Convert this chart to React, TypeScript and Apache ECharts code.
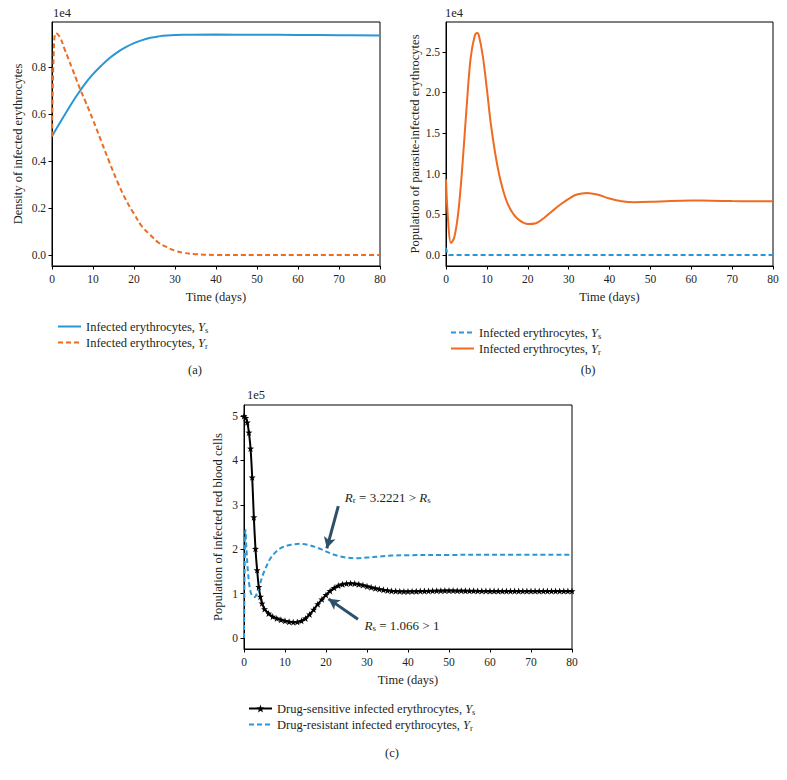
import React, { useEffect, useRef } from 'react';
import * as echarts from 'echarts';

// ---------- Panel (a) ----------
const aYsT = [0, 2, 4, 6, 8, 10, 12, 14, 16, 18, 20, 22, 24, 26, 28, 32, 40, 50, 60, 70, 80];
const aYsV = [5050, 5650, 6230, 6780, 7280, 7700, 8060, 8380, 8640, 8850, 9020, 9150, 9250, 9310, 9345, 9375, 9385, 9380, 9370, 9360, 9350];
const aYrT = [0, 0.5, 1, 2, 3, 4, 5, 6, 7, 8, 10, 12, 14, 16, 18, 20, 22, 24, 26, 28, 30, 32, 35, 40, 50, 60, 70, 80];
const aYrV = [5050, 9000, 9450, 9250, 8800, 8350, 7900, 7450, 7000, 6600, 5750, 4850, 3950, 3100, 2350, 1750, 1200, 850, 520, 330, 180, 90, 30, 0, 0, 0, 0, 0];

// ---------- Panel (b) ----------
const bYsT = [0, 0.3, 0.7, 80];
const bYsV = [900, 150, 0, 0];
const bYrT = [0, 0.5, 1.2, 2, 3, 4, 5, 6, 7, 7.6, 8, 9, 10, 11, 12, 13, 14, 15, 16, 17, 18, 19, 20, 22, 24, 26, 28, 30, 32, 34.5, 37, 40, 43, 46, 50, 55, 60, 65, 70, 75, 80];
const bYrV = [9300, 4350, 1480, 2100, 5200, 10900, 17900, 24100, 26900, 27300, 27100, 24500, 20400, 16000, 12600, 9900, 7900, 6400, 5400, 4700, 4250, 3950, 3800, 3900, 4550, 5400, 6200, 6900, 7430, 7630, 7430, 6940, 6600, 6490, 6530, 6650, 6690, 6670, 6630, 6610, 6610];

// ---------- Panel (c) ----------
const cYsT = [0, 0.4, 0.8, 1.2, 1.6, 2, 2.4, 2.8, 3.2, 3.6, 4, 4.4, 5, 6, 7, 8, 9, 10, 11, 12, 13, 14, 15, 16, 17, 18, 19, 20,
  21, 22, 23, 24, 25, 26, 27, 28, 29, 30, 31, 32, 33, 34, 35, 36, 37, 38, 39, 40, 41, 42, 43, 44, 45, 46, 47, 48, 49, 50,
  51, 52, 53, 54, 55, 56, 57, 58, 59, 60, 61, 62, 63, 64, 65, 66, 67, 68, 69, 70, 71, 72, 73, 74, 75, 76, 77, 78, 79, 80];
const cYsV = [500000, 496000, 486000, 463000, 427000, 362000, 272000, 201000, 153000, 115000, 93000, 78000, 65000, 55000, 48000, 44000, 41000, 38500, 36500, 35500, 36000, 38500, 44000, 53000, 64000, 76000, 87000, 97000,
  106000, 113000, 118000, 121000, 122500, 123000, 122500, 121000, 119000, 116500, 114000, 112000, 110000, 108500, 107000, 106000, 105500, 105000, 104800, 104800, 105000, 105200, 105500, 105800, 106000, 106200, 106400, 106500, 106600, 106600,
  106600, 106500, 106400, 106300, 106200, 106100, 106000, 105900, 105900, 105800, 105800, 105800, 105700, 105700, 105700, 105700, 105600, 105600, 105600, 105600, 105600, 105600, 105600, 105600, 105600, 105600, 105600, 105600, 105600, 105600];
const cYrT = [0, 0.15, 0.35, 0.6, 1, 1.5, 2, 2.6, 3.2, 3.8, 4.6, 5.5, 6.5, 8, 9.5, 11.5, 13.6, 15.5, 17.7, 20, 21.5, 23.3, 25, 27.4, 30, 33, 36, 40, 50, 60, 80];
const cYrV = [0, 150000, 243000, 200000, 145000, 108000, 95000, 92000, 102000, 119000, 142000, 162000, 180000, 196000, 205000, 210000, 212000, 210000, 204000, 195000, 189000, 184000, 181000, 179500, 181000, 183500, 185500, 186500, 187000, 187500, 187500];

// annotation arrows (tail -> head), in data units of panel (c)
const arrowRr = [[23, 297000], [20.2, 202000]];
const arrowRs = [[27.8, 42000], [20.6, 88000]];
const labelRrAt = [24.6, 317000];
const labelRsAt = [29.4, 28500];

const aYTicks = [0, 2000, 4000, 6000, 8000];
const bYTicks = [0, 5000, 10000, 15000, 20000, 25000];
const cYTicks = [0, 100000, 200000, 300000, 400000, 500000];

const FONT = '"Liberation Serif", "Times New Roman", serif';
const INK = '#231f20';
const BLUE = '#2a96d5';
const ORANGE = '#ef6b21';
const ARROW = '#2e5068';
const CLEAR = 'rgba(0,0,0,0)';

const pairs = (t: number[], v: number[]) => t.map((x, i) => [x, v[i]]);

const rich = {
  n: { fontFamily: FONT, fontSize: 12.5, color: INK, lineHeight: 15 },
  i: { fontFamily: FONT, fontSize: 12.5, fontStyle: 'italic', color: INK, lineHeight: 15 },
  s: { fontFamily: FONT, fontSize: 8.5, color: INK, verticalAlign: 'bottom', lineHeight: 9, padding: [3, 0, 0, 0] },
};

const legendText: Record<string, string> = {
  aYs: '{n|Infected erythrocytes, }{i|Y}{s|s}',
  aYr: '{n|Infected erythrocytes, }{i|Y}{s|r}',
  bYs: '{n|Infected erythrocytes, }{i|Y}{s|s}',
  bYr: '{n|Infected erythrocytes, }{i|Y}{s|r}',
  cYs: '{n|Drug-sensitive infected erythrocytes, }{i|Y}{s|s}',
  cYr: '{n|Drug-resistant infected erythrocytes, }{i|Y}{s|r}',
};

const STAR = 'path://M0,-10L2.35,-3.24L9.51,-3.09L3.8,1.24L5.88,8.09L0,4L-5.88,8.09L-3.8,1.24L-9.51,-3.09L-2.35,-3.24Z';

function xAxis(gridIndex: number) {
  return {
    type: 'value', gridIndex, min: 0, max: 80, interval: 10,
    name: 'Time (days)', nameLocation: 'middle', nameGap: 24,
    nameTextStyle: { fontFamily: FONT, fontSize: 12.5, color: INK },
    axisLine: { onZero: false, lineStyle: { color: '#000', width: 1 } },
    axisTick: { inside: false, length: 3.5, lineStyle: { color: '#000' } },
    axisLabel: { fontFamily: FONT, fontSize: 11.5, color: INK, margin: 7 },
    splitLine: { show: false },
  };
}

function yAxis(gridIndex: number, min: number, max: number, ticks: number[], scale: number, digits: number, name: string, nameGap: number) {
  return {
    type: 'value', gridIndex, min, max,
    name, nameLocation: 'middle', nameGap,
    nameTextStyle: { fontFamily: FONT, fontSize: 12.5, color: INK },
    axisLine: { onZero: false, lineStyle: { color: '#000', width: 1 } },
    axisTick: { customValues: ticks, length: 3.5, lineStyle: { color: '#000' } },
    axisLabel: {
      customValues: ticks, fontFamily: FONT, fontSize: 11.5, color: INK, margin: 6,
      formatter: (v: number) => (v / scale).toFixed(digits),
    },
    splitLine: { show: false },
  };
}

function legend(names: string[], left: number, top: number) {
  return {
    data: names, left, top, orient: 'vertical', itemWidth: 23, itemHeight: 10, itemGap: 2,
    formatter: (n: string) => legendText[n],
    textStyle: { fontFamily: FONT, fontSize: 12.5, color: INK, rich },
    selectedMode: false,
  };
}

function gtext(x: number, y: number, text: string, size = 12.5, align = 'left') {
  return {
    type: 'text', x, y,
    style: { text, fontFamily: FONT, fontSize: size, fill: INK, align, verticalAlign: 'middle' },
  };
}

export default function App() {
  const ref = useRef<HTMLDivElement>(null);
  useEffect(() => {
    document.body.style.margin = '0';
    const chart = echarts.init(ref.current!, undefined, { renderer: 'svg' });
    const annRich = {
      i: { fontFamily: FONT, fontSize: 13, fontStyle: 'italic', color: INK, lineHeight: 15 },
      n: { fontFamily: FONT, fontSize: 13, color: INK, lineHeight: 15 },
      s: { fontFamily: FONT, fontSize: 9, color: INK, verticalAlign: 'bottom', lineHeight: 9, padding: [3, 0, 0, 0] },
    };
    const option = {
      animation: false,
      textStyle: { fontFamily: FONT },
      grid: [
        { left: 52, top: 22, width: 328, height: 244, show: true, borderColor: '#000', borderWidth: 1 },
        { left: 446, top: 22, width: 327, height: 244, show: true, borderColor: '#000', borderWidth: 1 },
        { left: 244, top: 405, width: 328, height: 244, show: true, borderColor: '#000', borderWidth: 1 },
      ],
      xAxis: [xAxis(0), xAxis(1), xAxis(2)],
      yAxis: [
        yAxis(0, -472.5, 9922.5, aYTicks, 1e4, 1, 'Density of infected erythrocytes', 28),
        yAxis(1, -1365, 28665, bYTicks, 1e4, 1, 'Population of parasite-infected erythrocytes', 24),
        yAxis(2, -25000, 525000, cYTicks, 1e5, 0, 'Population of infected red blood cells', 20),
      ],
      legend: [
        legend(['aYs', 'aYr'], 52, 315),
        legend(['bYs', 'bYr'], 445, 321),
        legend(['cYs', 'cYr'], 243, 697),
      ],
      series: [
        { name: 'aYs', type: 'line', xAxisIndex: 0, yAxisIndex: 0, data: pairs(aYsT, aYsV), smooth: 0.4, symbol: 'none',
          lineStyle: { color: BLUE, width: 2 }, itemStyle: { color: CLEAR, borderWidth: 0 } },
        { name: 'aYr', type: 'line', xAxisIndex: 0, yAxisIndex: 0, data: pairs(aYrT, aYrV), smooth: 0.4, symbol: 'none',
          lineStyle: { color: ORANGE, width: 2, type: [5, 3] }, itemStyle: { color: CLEAR, borderWidth: 0 } },
        { name: 'bYs', type: 'line', xAxisIndex: 1, yAxisIndex: 1, data: pairs(bYsT, bYsV), symbol: 'none',
          lineStyle: { color: BLUE, width: 2, type: [5, 3] }, itemStyle: { color: CLEAR, borderWidth: 0 } },
        { name: 'bYr', type: 'line', xAxisIndex: 1, yAxisIndex: 1, data: pairs(bYrT, bYrV), smooth: 0.35, symbol: 'none',
          lineStyle: { color: ORANGE, width: 2 }, itemStyle: { color: CLEAR, borderWidth: 0 } },
        { name: 'cYs', type: 'line', xAxisIndex: 2, yAxisIndex: 2, data: pairs(cYsT, cYsV), smooth: 0.3,
          symbol: STAR, symbolSize: 7, showSymbol: true,
          lineStyle: { color: '#000', width: 2 }, itemStyle: { color: '#000' } },
        { name: 'cYr', type: 'line', xAxisIndex: 2, yAxisIndex: 2, data: pairs(cYrT, cYrV), smooth: 0.35, symbol: 'none',
          lineStyle: { color: BLUE, width: 2, type: [5, 3] }, itemStyle: { color: CLEAR, borderWidth: 0 },
          markLine: {
            silent: true, symbol: ['none', 'arrow'], symbolSize: [9, 11], label: { show: false },
            lineStyle: { color: ARROW, width: 3, type: 'solid' },
            data: [
              [{ coord: arrowRr[0] }, { coord: arrowRr[1] }],
              [{ coord: arrowRs[0] }, { coord: arrowRs[1] }],
            ],
          },
          markPoint: {
            silent: true, symbol: 'circle', symbolSize: 0,
            label: { show: true, position: [0, 0], align: 'left', verticalAlign: 'middle', rich: annRich, color: INK },
            data: [
              { coord: labelRrAt, label: { formatter: '{i|R}{s|r}{n| = 3.2221 > }{i|R}{s|s}' } },
              { coord: labelRsAt, label: { formatter: '{i|R}{s|s}{n| = 1.066 > 1}' } },
            ],
          },
        },
      ],
      graphic: [
        gtext(53, 13, '1e4', 12.5),
        gtext(445, 13, '1e4', 12.5),
        gtext(247, 395, '1e5', 12.5),
        gtext(195, 370, '(a)', 12.5, 'center'),
        gtext(588, 370, '(b)', 12.5, 'center'),
        gtext(392, 753, '(c)', 12.5, 'center'),
      ],
    };
    chart.setOption(option as any);
    return () => chart.dispose();
  }, []);
  return <div ref={ref} style={{ width: 787, height: 780 }} />;
}
